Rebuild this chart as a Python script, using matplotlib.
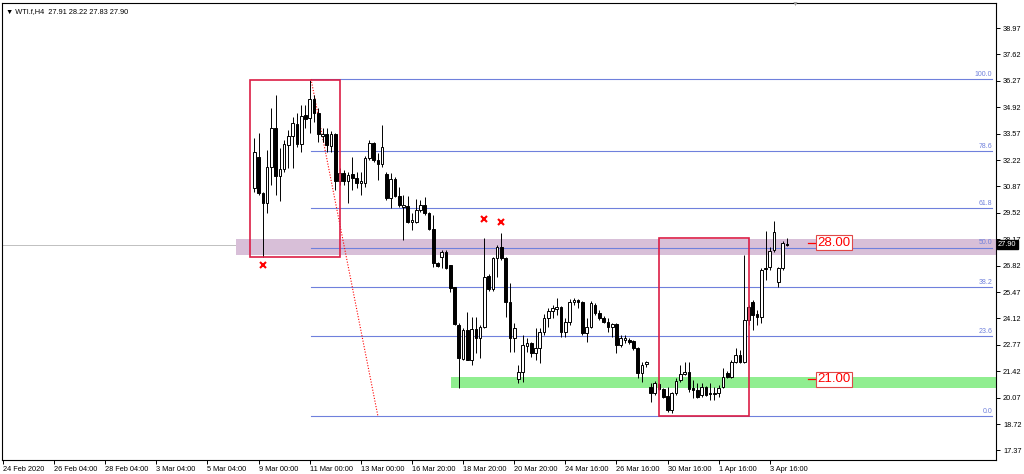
import numpy as np
import matplotlib
matplotlib.use("Agg")
import matplotlib.pyplot as plt
from matplotlib.patches import Rectangle
from matplotlib.transforms import blended_transform_factory

plt.rcParams["font.family"] = ["Liberation Sans", "DejaVu Sans"]

# =========================
# DATOS (velas H4 de WTI.f)
# =========================
# indice de la primera vela visible (24 Feb 2020 = 0, una vela cada 4 h)
primera_barra = 59

apertura = [
    30.79, 32.37, 30.53, 30.02, 31.86, 33.86, 31.40, 31.76, 32.99, 33.45,
    34.06, 33.04, 34.52, 34.37, 35.34, 34.62, 33.45, 33.55, 32.94, 33.55,
    31.15, 31.56, 31.15, 31.51, 31.30, 31.05, 31.05, 32.32, 33.09, 32.22,
    32.02, 31.51, 30.28, 31.25, 30.38, 29.82, 29.87, 29.05, 29.05, 29.67,
    29.92, 29.51, 28.69, 26.96, 27.26, 27.52, 26.85, 25.73, 23.79, 22.05,
    23.53, 22.00, 23.58, 23.12, 23.68, 26.29, 25.63, 27.21, 27.77, 27.21,
    24.96, 23.12, 21.03, 21.38, 22.71, 22.87, 22.35, 22.61, 23.43, 24.14,
    24.50, 24.60, 24.71, 23.43, 23.94, 24.96, 25.06, 24.96, 23.38, 23.68,
    24.81, 24.40, 24.14, 23.94, 23.68, 23.84, 22.76, 23.02, 23.02, 22.97,
    22.61, 21.33, 21.79, 20.62, 20.31, 20.77, 20.51, 20.16, 19.44, 20.31,
    20.97, 21.28, 21.38, 20.56, 20.46, 20.21, 20.62, 20.31, 20.26, 20.31,
    20.62, 21.33, 21.13, 21.89, 22.25, 21.89, 24.04, 24.96, 24.35, 24.19,
    26.65, 26.75, 27.62, 25.98, 26.70, 27.91,
]
maximo = [
    33.35, 33.60, 30.59, 32.73, 34.88, 35.54, 32.83, 33.24, 33.76, 34.42,
    34.62, 35.03, 35.03, 36.31, 35.54, 34.88, 33.86, 33.86, 33.70, 33.60,
    31.81, 31.71, 31.61, 32.37, 31.61, 31.61, 32.43, 33.24, 33.14, 32.58,
    34.01, 31.61, 31.56, 31.35, 30.84, 30.43, 30.38, 29.51, 30.23, 30.18,
    30.33, 29.56, 29.41, 27.01, 27.62, 27.62, 26.85, 25.73, 23.89, 23.63,
    24.45, 24.19, 24.19, 23.79, 28.23, 26.39, 27.26, 27.88, 28.49, 27.26,
    25.93, 23.89, 21.74, 23.27, 23.12, 22.92, 23.63, 23.63, 24.35, 24.65,
    24.81, 25.17, 24.76, 24.14, 25.12, 25.17, 25.12, 25.01, 24.14, 25.01,
    24.91, 24.55, 24.25, 24.14, 23.89, 23.89, 23.27, 23.27, 23.12, 23.02,
    22.66, 21.89, 21.95, 20.82, 20.92, 20.82, 20.56, 20.62, 20.36, 21.08,
    21.74, 21.89, 21.89, 20.97, 20.82, 20.82, 20.67, 20.82, 20.62, 20.72,
    21.59, 21.43, 22.00, 22.61, 22.51, 27.36, 24.81, 25.06, 24.55, 26.70,
    28.59, 27.77, 29.10, 26.75, 28.08, 28.22,
]
minimo = [
    30.59, 30.43, 27.26, 29.51, 30.94, 30.43, 30.13, 31.61, 31.81, 31.81,
    32.89, 32.63, 33.86, 33.60, 34.16, 33.14, 33.14, 32.63, 32.63, 30.69,
    30.94, 30.94, 30.02, 30.69, 30.79, 30.43, 30.84, 32.22, 32.12, 31.20,
    31.86, 30.18, 29.77, 30.33, 29.82, 28.13, 29.00, 28.64, 29.00, 29.56,
    29.41, 28.64, 26.75, 26.75, 26.70, 26.65, 25.47, 23.79, 20.56, 22.00,
    22.00, 21.74, 22.35, 22.10, 23.63, 25.52, 25.52, 26.24, 27.11, 24.19,
    22.41, 22.41, 20.82, 20.87, 22.41, 22.15, 22.00, 21.84, 23.27, 23.68,
    24.14, 24.30, 23.17, 23.17, 23.79, 24.81, 24.65, 23.27, 22.92, 23.63,
    24.30, 24.04, 23.89, 23.43, 23.17, 22.35, 22.66, 22.87, 22.81, 22.51,
    21.08, 20.87, 21.64, 19.85, 20.21, 20.46, 20.05, 19.34, 19.29, 20.21,
    20.87, 21.23, 20.36, 20.05, 20.05, 20.10, 20.16, 19.95, 19.95, 20.10,
    20.56, 21.08, 21.08, 21.84, 21.84, 21.84, 23.79, 23.53, 23.79, 23.89,
    26.10, 26.60, 27.52, 25.73, 26.60, 27.83,
]
cierre = [
    32.63, 30.53, 30.02, 31.86, 33.86, 31.40, 31.76, 33.04, 33.45, 34.11,
    33.04, 34.47, 34.32, 35.34, 34.62, 33.55, 33.55, 32.99, 33.55, 31.15,
    31.56, 31.15, 31.45, 31.30, 31.05, 31.15, 32.32, 33.09, 32.22, 32.02,
    32.89, 30.28, 31.25, 30.38, 29.92, 29.92, 29.05, 29.15, 29.67, 29.92,
    29.51, 28.69, 26.96, 26.80, 27.52, 26.70, 25.68, 23.84, 22.10, 23.53,
    22.00, 23.58, 23.12, 23.68, 26.24, 25.63, 27.21, 27.77, 27.21, 24.96,
    23.12, 23.63, 21.38, 22.76, 22.87, 22.35, 22.61, 23.43, 24.14, 24.50,
    24.65, 24.71, 23.43, 23.94, 24.96, 25.06, 24.96, 23.38, 23.68, 24.91,
    24.40, 24.14, 23.94, 23.68, 23.84, 22.76, 23.12, 23.12, 22.92, 22.61,
    21.33, 21.74, 21.89, 20.31, 20.82, 20.51, 20.10, 19.44, 20.31, 20.92,
    21.28, 21.38, 20.51, 20.46, 20.10, 20.62, 20.21, 20.26, 20.31, 20.56,
    21.13, 21.13, 21.89, 22.25, 21.89, 24.04, 24.71, 24.30, 24.19, 26.60,
    26.70, 27.57, 28.54, 26.70, 27.98, 27.90,
]

fechas = [
    "24 Feb 2020", "26 Feb 04:00", "28 Feb 04:00", "3 Mar 04:00",
    "5 Mar 04:00", "9 Mar 00:00", "11 Mar 00:00", "13 Mar 00:00",
    "16 Mar 20:00", "18 Mar 20:00", "20 Mar 20:00", "24 Mar 16:00",
    "26 Mar 16:00", "30 Mar 16:00", "1 Apr 16:00", "3 Apr 16:00",
]
precios_eje = [38.97, 37.62, 36.27, 34.92, 33.57, 32.22, 30.87, 29.52,
               28.17, 26.82, 25.47, 24.12, 22.77, 21.42, 20.07, 18.72, 17.37]

# Fibonacci y objetos dibujados
niveles_fibo = [0.0, 23.6, 38.2, 50.0, 61.8, 78.6, 100.0]
fibo_alto = 36.36
fibo_bajo = 19.13
zona_morada = (27.36, 28.18)
zona_verde = (20.58, 21.10)
marcas_x_barra = [61, 113, 117]
marcas_x_precio = [26.85, 29.20, 29.05]
etiquetas_precio = [28.00, 21.00]
ultimo_precio = 27.90

# =========================
# FIGURA
# =========================
px_barra = 4.26
x_min = -1 / px_barra
x_max = x_min + 994 / px_barra
y_min, y_max = 16.88, 40.25

fig = plt.figure(figsize=(10.24, 4.74), dpi=100)
ax = fig.add_axes([2 / 1024, 14 / 474, 994 / 1024, 457 / 474])
ax.set_xlim(x_min, x_max)
ax.set_ylim(y_min, y_max)

ap = np.array(apertura)
ci = np.array(cierre)
x = np.arange(len(ci)) + primera_barra

# Zonas de fondo
ax.add_patch(Rectangle((54.7, zona_morada[0]), x_max - 54.7,
                       zona_morada[1] - zona_morada[0],
                       fc="#d8bfd8", ec="none", zorder=1))
ax.add_patch(Rectangle((105.2, zona_verde[0]), x_max - 105.2,
                       zona_verde[1] - zona_verde[0],
                       fc="#90ee90", ec="none", zorder=1))

# Linea bid
ax.axhline(ultimo_precio, color="#c0c0c0", lw=0.7, zorder=0.8)

# Niveles de Fibonacci
azul_fibo = "#6f80dc"
for nivel in niveles_fibo:
    precio = fibo_bajo + nivel / 100 * (fibo_alto - fibo_bajo)
    ax.plot([72.3, 232.2], [precio, precio], color=azul_fibo, lw=0.8, zorder=2)
    ax.text(232.2, precio + 0.06, f"{nivel:.1f}", color=azul_fibo,
            fontsize=5, ha="right", va="bottom", zorder=2)
ax.plot([72.3, 88.0], [fibo_alto, fibo_bajo], color="red", lw=0.8,
        ls=(0, (1, 1.5)), zorder=2)

# Velas
ax.vlines(x, minimo, maximo, color="black", lw=0.7, zorder=3)
cuerpo = np.maximum(np.abs(ci - ap), 0.03)
colores = np.where(ci >= ap, "white", "black")
ax.bar(x, cuerpo, bottom=np.minimum(ap, ci), width=0.62, color=colores,
       edgecolor="black", linewidth=0.7, zorder=4)

# Rectangulos rojos
ax.add_patch(Rectangle((58.0, 27.26), 21.1, 36.31 - 27.26, fill=False,
                       ec="#dc1e46", lw=1.2, zorder=5))
ax.add_patch(Rectangle((154.0, fibo_bajo), 21.1, 28.23 - fibo_bajo, fill=False,
                       ec="#dc1e46", lw=1.2, zorder=5))

# Marcas X
ax.plot(marcas_x_barra, marcas_x_precio, ls="none", marker="x", color="red",
        ms=4, mew=1.5, zorder=6)

# Etiquetas 28.00 / 21.00
for precio in etiquetas_precio:
    ax.plot([189.0, 190.5], [precio, precio], color="red", lw=0.9, zorder=6)
    ax.text(191.2, precio, f"{precio:.2f}", color="red", fontsize=9.5,
            ha="left", va="center", zorder=6,
            bbox=dict(boxstyle="square,pad=0.12", fc="white", ec="#e04848", lw=0.8))

# =========================
# EJES
# =========================
ax.set_xticks(np.arange(len(fechas)) * 12)
ax.set_xticklabels(fechas)
for etiqueta in ax.get_xticklabels():
    etiqueta.set_ha("left")
ax.tick_params(axis="x", length=3, pad=1.5, labelsize=5.3, width=0.7)

ax.set_yticks(precios_eje)
ax.set_yticklabels([f"{p:.2f}" for p in precios_eje])
ax.yaxis.tick_right()
ax.tick_params(axis="y", length=3, pad=2, labelsize=5.3, width=0.7)

for lado in ax.spines.values():
    lado.set_color("black")
    lado.set_linewidth(0.8)

trans = blended_transform_factory(ax.transAxes, ax.transData)
ax.text(1.002, ultimo_precio, f"{ultimo_precio:.2f}", transform=trans,
        color="white", fontsize=5.3, ha="left", va="center", zorder=10,
        bbox=dict(boxstyle="square,pad=0.18", fc="black", ec="black"))

ax.text(0.004, 0.988, "▼ WTI.f,H4  27.91 28.22 27.83 27.90",
        transform=ax.transAxes, fontsize=5.3, ha="left", va="top")
fig.text(795 / 1024, 1 - 4 / 474, "▼", color="#a0a0a0", fontsize=5,
         ha="center", va="center")

fig.savefig("out.png", dpi=100)
plt.close()
